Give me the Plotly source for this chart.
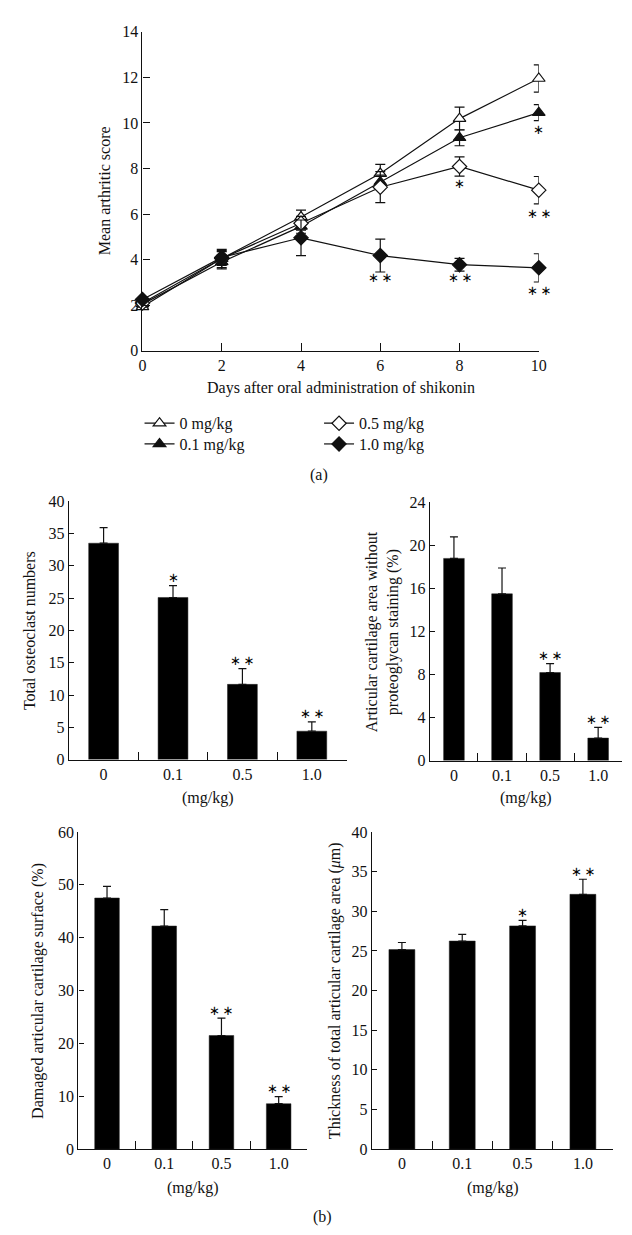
import plotly.graph_objects as go

# ---------------- data ----------------
days = [0, 2, 4, 6, 8, 10]
series_names = ["0 mg/kg", "0.1 mg/kg", "0.5 mg/kg", "1.0 mg/kg"]
score_0 = [1.93, 4.05, 5.87, 7.78, 10.19, 11.95]
err_0 = [0.1, 0.4, 0.3, 0.4, 0.5, 0.6]
score_01 = [2.05, 3.9, 5.46, 7.41, 9.35, 10.45]
err_01 = [0.1, 0.3, 0.3, 0.3, 0.35, 0.35]
score_05 = [2.1, 4.05, 5.6, 7.18, 8.09, 7.05]
err_05 = [0.1, 0.3, 0.3, 0.68, 0.42, 0.6]
score_10 = [2.25, 4.1, 4.96, 4.18, 3.78, 3.64]
err_10 = [0.1, 0.3, 0.78, 0.72, 0.28, 0.62]

# significance marks in panel (a): day, score position, label
star_a_day = [10, 8, 10, 6, 8, 10]
star_a_y = [9.72, 7.34, 6.04, 3.2, 3.2, 2.65]
star_a_txt = ["*", "*", "**", "**", "**", "**"]

doses = ["0", "0.1", "0.5", "1.0"]
osteoclast = [33.5, 25.1, 11.65, 4.4]
osteoclast_err = [2.4, 1.85, 2.45, 1.45]
osteoclast_sig = ["", "*", "**", "**"]

proteoglycan = [18.78, 15.49, 8.18, 2.09]
proteoglycan_err = [2.0, 2.4, 0.82, 1.0]
proteoglycan_sig = ["", "", "**", "**"]

damaged = [47.5, 42.2, 21.5, 8.6]
damaged_err = [2.2, 3.1, 3.3, 1.35]
damaged_sig = ["", "", "**", "**"]

thickness = [25.16, 26.24, 28.15, 32.13]
thickness_err = [0.9, 0.84, 0.7, 1.9]
thickness_sig = ["", "", "*", "**"]

# ---------------- layout helpers ----------------
W, H = 632, 1235
FONT = "Liberation Serif"
FS = 16
BLACK = "#111111"


def px(x):
    return x / W


def py(y):
    return 1 - y / H


def star(t):
    return t.replace("*", "\u2217").replace("\u2217\u2217", "\u2217\u2009\u2217")


STAR_FONT = dict(family="DejaVu Sans", size=13, color="black")

fig = go.Figure()

markers = [
    dict(symbol="triangle-up", color="white", size=11, line=dict(color=BLACK, width=1.2)),
    dict(symbol="triangle-up", color=BLACK, size=11, line=dict(color=BLACK, width=1.2)),
    dict(symbol="diamond", color="white", size=11, line=dict(color=BLACK, width=1.2)),
    dict(symbol="diamond", color=BLACK, size=11, line=dict(color=BLACK, width=1.2)),
]
scores = [score_0, score_01, score_05, score_10]
errs = [err_0, err_01, err_05, err_10]
legend_ids = ["legend", "legend2", "legend3", "legend4"]
for i in range(4):
    fig.add_trace(go.Scatter(
        x=days, y=scores[i], name=series_names[i], mode="lines+markers",
        line=dict(color=BLACK, width=1.2), marker=markers[i],
        error_y=dict(type="data", array=errs[i], color=BLACK, thickness=1.2, width=5),
        cliponaxis=False, legend=legend_ids[i],
        xaxis="x", yaxis="y"))

for d, yv, t in zip(star_a_day, star_a_y, star_a_txt):
    fig.add_annotation(x=d, y=yv, xref="x", yref="y", text=star(t), showarrow=False,
                       yanchor="middle", yshift=0, font=STAR_FONT)

# ---------------- bar panels ----------------
panels = [
    (osteoclast, osteoclast_err, osteoclast_sig, 2),
    (proteoglycan, proteoglycan_err, proteoglycan_sig, 3),
    (damaged, damaged_err, damaged_sig, 4),
    (thickness, thickness_err, thickness_sig, 5),
]
for vals, er, sig, k in panels:
    fig.add_trace(go.Bar(
        x=doses, y=vals, width=0.43, marker=dict(color="black", line=dict(color="#222", width=0.5)),
        error_y=dict(type="data", array=er, arrayminus=[0] * len(er), symmetric=False,
                     color=BLACK, thickness=1.2, width=4),
        showlegend=False, xaxis=f"x{k}", yaxis=f"y{k}"))
    for i, (v, e, s) in enumerate(zip(vals, er, sig)):
        if s:
            fig.add_annotation(x=i, y=v + e, xref=f"x{k}", yref=f"y{k}", text=star(s),
                               showarrow=False, yanchor="middle", yshift=8, font=STAR_FONT)

axis_common = dict(showgrid=False, zeroline=False, showline=True, linecolor=BLACK, linewidth=1.2,
                   tickcolor=BLACK, tickwidth=1.2, ticks="inside",
                   tickfont=dict(family=FONT, size=FS, color=BLACK))

legend_common = dict(xanchor="left", yanchor="middle", bgcolor="rgba(0,0,0,0)",
                     font=dict(family=FONT, size=FS, color=BLACK))
fig.update_layout(
    width=W, height=H, margin=dict(l=0, r=0, t=0, b=0),
    paper_bgcolor="white", plot_bgcolor="white",
    font=dict(family=FONT, size=FS, color=BLACK),
    showlegend=True,
    legend=dict(x=px(130), y=py(413), **legend_common),
    legend2=dict(x=px(130), y=py(434), **legend_common),
    legend3=dict(x=px(313), y=py(413), **legend_common),
    legend4=dict(x=px(313), y=py(434), **legend_common),
    xaxis=dict(domain=[px(133), px(537)], range=[0, 10], tickvals=[0, 2, 4, 6, 8, 10],
               ticklen=8, anchor="y", **axis_common),
    yaxis=dict(domain=[py(339.5), py(16)], range=[0, 14], dtick=2, ticklen=7, anchor="x",
               **axis_common),
)

bar_axes = {
    2: ((58, 341), (754, 492), 40, 5),
    3: ((426, 622), (755, 493), 24, 4),
    4: ((67.7, 301), (1149, 827.3), 60, 10),
    5: ((366.7, 612.7), (1149, 827.3), 40, 5),
}
for k, ((x0, x1), (y0, y1), ymax, dt) in bar_axes.items():
    fig.update_layout(**{
        f"xaxis{k}": dict(domain=[px(x0), px(x1)], type="category", range=[-0.5, 3.5],
                          tickson="boundaries", ticklen=8, anchor=f"y{k}", **axis_common),
        f"yaxis{k}": dict(domain=[py(y0), py(y1)], range=[0, ymax], dtick=dt, ticklen=5,
                          anchor=f"x{k}", **axis_common),
    })


# ---------------- text labels ----------------
def label(x, y, text, angle=0, size=FS):
    fig.add_annotation(x=px(x), y=py(y), xref="paper", yref="paper", text=text, textangle=angle,
                       showarrow=False, xanchor="center", yanchor="middle",
                       font=dict(family=FONT, size=size, color=BLACK))


label(335, 377, "Days after oral administration of shikonin")
label(94, 177.5, "Mean arthritic score", angle=-90)
label(313, 465, "(a)")
label(18, 623, "Total osteoclast numbers", angle=-90)
label(378, 624, "Articular cartilage area without<br>proteoglycan staining (%)", angle=-90)
label(27, 988, "Damaged articular cartilage surface (%)", angle=-90)
label(330, 988, "Thickness of total articular cartilage area (<i>μ</i>m)", angle=-90)
label(200, 793, "(mg/kg)")
label(524, 793, "(mg/kg)")
label(184, 1188, "(mg/kg)")
label(490, 1188, "(mg/kg)")
label(316, 1218, "(b)")

fig.write_html("out.html")
